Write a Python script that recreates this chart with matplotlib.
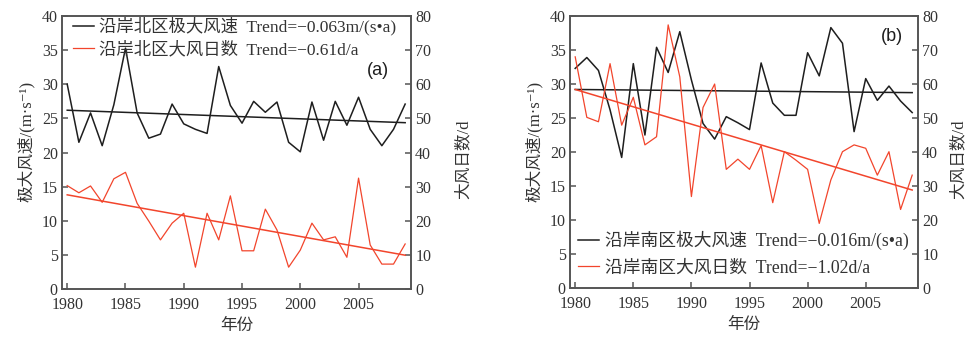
import numpy as np
import matplotlib.pyplot as plt

plt.rcParams['font.family'] = ['Liberation Serif', 'Noto Sans CJK SC', 'DejaVu Serif']
plt.rcParams['axes.unicode_minus'] = True

years = np.arange(1980, 2010)

# north coast: max wind speed (m/s) and gale days (d)
north_speed = [30.0, 21.5, 25.8, 21.0, 27.0, 35.3, 25.8, 22.1, 22.7, 27.1,
               24.2, 23.4, 22.8, 32.6, 26.9, 24.3, 27.5, 25.9, 27.4, 21.5,
               20.1, 27.4, 21.8, 27.5, 24.0, 28.1, 23.4, 21.0, 23.4, 27.1]
north_days = [30.3, 28.2, 30.2, 25.4, 32.3, 34.2, 25.1, 19.9, 14.4, 19.3,
              22.2, 6.4, 22.2, 14.4, 27.3, 11.2, 11.2, 23.4, 17.3, 6.4,
              11.4, 19.3, 14.4, 15.3, 9.3, 32.5, 12.9, 7.3, 7.3, 13.2]
# south coast
south_speed = [32.3, 33.9, 32.0, 26.2, 19.2, 33.0, 22.5, 35.4, 31.7, 37.7,
               30.6, 24.2, 21.9, 25.2, 24.3, 23.3, 33.1, 27.2, 25.4, 25.4,
               34.6, 31.2, 38.3, 36.0, 23.0, 30.8, 27.6, 29.7, 27.5, 25.8]
south_days = [68.0, 50.2, 48.9, 66.0, 47.9, 56.1, 42.1, 44.5, 77.4, 62.1,
              26.9, 53.1, 60.0, 34.9, 37.9, 34.9, 41.9, 25.1, 40.1, 37.6,
              34.9, 19.0, 31.8, 40.1, 42.1, 41.1, 33.2, 40.1, 23.1, 33.2]

# linear trends: value at 1980 and slope per year
north_speed_trend = (26.2, -0.063)
north_days_trend = (27.6, -0.61)
south_speed_trend = (29.2, -0.016)
south_days_trend = (58.4, -1.02)

labels_a = ['沿岸北区极大风速  Trend=−0.063m/(s•a)', '沿岸北区大风日数  Trend=−0.61d/a']
labels_b = ['沿岸南区极大风速  Trend=−0.016m/(s•a)', '沿岸南区大风日数  Trend=−1.02d/a']

BLACK = '#1e1e1e'
RED = '#f2452c'
GREY = '#555555'
TXT = '#333333'

fig = plt.figure(figsize=(9.7, 3.37), dpi=100)
ax_a = fig.add_axes([0.0639, 0.1424, 0.3598, 0.8100])
ax_b = fig.add_axes([0.5876, 0.1454, 0.3588, 0.8070])


def panel(ax, speed, days, st, dt, labels, tag, tagpos, legloc, legbox, legfs, legsp, rlab_x):
    ax2 = ax.twinx()
    l1, = ax.plot(years, speed, color=BLACK, lw=1.1)
    ax.plot(years, st[0] + st[1] * (years - 1980), color=BLACK, lw=1.1)
    l2, = ax2.plot(years, days, color=RED, lw=0.9)
    ax2.plot(years, dt[0] + dt[1] * (years - 1980), color=RED, lw=1.1)

    ax.set_xlim(1979.55, 2009.5)
    ax.set_ylim(0, 40)
    ax2.set_ylim(0, 80)
    ax.set_xticks([1980, 1985, 1990, 1995, 2000, 2005])
    ax.set_yticks(range(0, 41, 5))
    ax2.set_yticks(range(0, 81, 10))

    for a in (ax, ax2):
        for s in a.spines.values():
            s.set_color(GREY)
            s.set_linewidth(1.2)
        a.tick_params(direction='in', length=4, width=1.1, color=GREY,
                      labelsize=11.5, labelcolor=TXT, pad=3)
    ax.tick_params(axis='x', pad=6)

    ax.set_xlabel('年份', fontsize=12, color=TXT, labelpad=3)
    ax.set_ylabel('极大风速/(m·s⁻¹)', fontsize=12, color=TXT)
    ax2.set_ylabel('大风日数/d', fontsize=12, color=TXT)
    ax.yaxis.set_label_coords(-0.078, 0.54)
    ax2.yaxis.set_label_coords(rlab_x, 0.475)

    ax.text(tagpos[0], tagpos[1], tag, transform=ax.transAxes, fontsize=13,
            family='Liberation Sans', color=BLACK, ha='center', va='center')

    ax2.legend([l1, l2], labels, loc=legloc, bbox_to_anchor=legbox,
               frameon=False, fontsize=legfs, handlelength=1.2, handletextpad=0.3,
               labelspacing=legsp, borderaxespad=0, labelcolor=TXT)


panel(ax_a, north_speed, north_days, north_speed_trend, north_days_trend,
      labels_a, '(a)', (0.905, 0.80), 'upper left', (0.011, 1.022), 12.5, 0.36, 1.128)
panel(ax_b, south_speed, south_days, south_speed_trend, south_days_trend,
      labels_b, '(b)', (0.925, 0.925), 'lower left', (0.003, 0.016), 12.8, 0.52, 1.093)

fig.savefig('out.png', dpi=100)
